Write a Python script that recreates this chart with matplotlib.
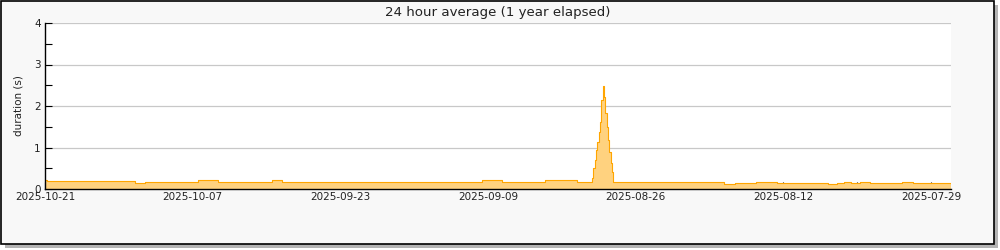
import pandas as pd
import matplotlib
matplotlib.use('Agg')
import matplotlib.pyplot as plt
import matplotlib.dates as mdates
from matplotlib.patches import Rectangle
from matplotlib.ticker import FixedLocator, MultipleLocator

# Data: step segments, each starts N days before 2025-10-21 and runs back in time
latest = pd.Timestamp('2025-10-21')
days_ago = [0.0, 0.2, 8.53, 9.48, 14.5, 16.4, 21.5, 22.5, 41.4, 43.3, 47.4, 50.4,
            # spike (3 hour steps)
            51.875, 52.0, 52.125, 52.25, 52.375, 52.5, 52.625, 52.75,
            52.875, 53.0, 53.125, 53.25, 53.375, 53.5, 53.625, 53.75,
            53.875, 63.2, 64.4, 65.4, 67.4, 69.4, 74.2, 75.1, 75.8, 76.4,
            77.3, 78.2, 81.3, 82.3, 85.9]
avg_s = [0.22, 0.19, 0.15, 0.18, 0.21, 0.18, 0.21, 0.18, 0.21, 0.18, 0.21, 0.18,
         0.26, 0.50, 0.70, 0.94, 1.14, 1.38, 1.62, 2.14,
         2.48, 2.22, 1.83, 1.50, 1.18, 0.90, 0.62, 0.42,
         0.18, 0.16, 0.12, 0.14, 0.17, 0.14, 0.12, 0.14, 0.17, 0.14,
         0.17, 0.14, 0.16, 0.14, 0.14]

dates = [latest - pd.Timedelta(days=d) for d in days_ago]

plt.rcParams['font.family'] = 'DejaVu Sans'

fig = plt.figure(figsize=(10, 2.5), dpi=100)
fig.patch.set_facecolor('white')

# frame with drop shadow (behind the axes)
fig.patches.append(Rectangle((5 / 1000, 2 / 250), 993 / 1000, 243 / 250,
                             transform=fig.transFigure, facecolor='#b4b4b4',
                             edgecolor='none', zorder=-2))
fig.patches.append(Rectangle((1 / 1000, 6 / 250), 993 / 1000, 243 / 250,
                             transform=fig.transFigure, facecolor='#f8f8f8',
                             edgecolor='black', linewidth=1.2, zorder=-1))

ax = fig.add_axes([0.045, 0.244, 0.906, 0.664])
ax.set_facecolor('white')

ax.fill_between(dates, avg_s, 0, step='post', color='#ffd27f', linewidth=0, zorder=2)
ax.step(dates, avg_s, where='post', color='#ffa500', linewidth=0.8, zorder=3)

ax.set_xlim(dates[0], dates[-1])
ax.set_ylim(0, 4)

major = pd.date_range(end=latest, periods=7, freq='14D')
minor = pd.date_range(end=latest, periods=13, freq='7D')
ax.xaxis.set_major_locator(FixedLocator(mdates.date2num(major)))
ax.xaxis.set_minor_locator(FixedLocator(mdates.date2num(minor)))
ax.xaxis.set_major_formatter(mdates.DateFormatter('%Y-%m-%d'))
ax.yaxis.set_major_locator(MultipleLocator(1))
ax.yaxis.set_minor_locator(MultipleLocator(0.5))

ax.tick_params(which='both', direction='in', length=5, width=0.8, labelsize=7.5,
               color='black', labelcolor='#222222')
ax.tick_params(axis='x', pad=2)
ax.tick_params(axis='y', pad=3)

ax.grid(axis='y', color='#c8c8c8', linewidth=0.9, zorder=1)
ax.set_axisbelow(True)
for s in ['top', 'right']:
    ax.spines[s].set_visible(False)
for s in ['left', 'bottom']:
    ax.spines[s].set_linewidth(1.0)
    ax.spines[s].set_zorder(4)

ax.set_ylabel('duration (s)', fontsize=7.5, color='#222222', labelpad=8)
ax.set_title('24 hour average (1 year elapsed)', fontsize=9.6, color='#222222', pad=5)

plt.savefig('out.png', dpi=100)
